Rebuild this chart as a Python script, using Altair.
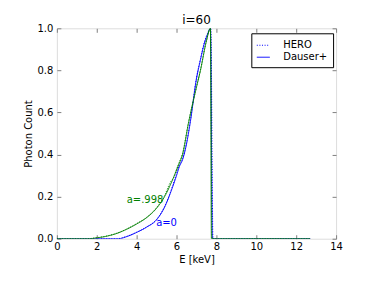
import altair as alt
import pandas as pd

# a=0 (blue)
blue_dauser_E = [0, 3.1, 3.5, 4.0, 4.5, 5.0, 5.4, 5.8, 6.0, 6.15, 6.3, 6.5, 6.7, 7.0, 7.2, 7.4, 7.55, 7.7, 7.8, 8.0, 12.7]
blue_dauser_v = [0, 0, 0.01, 0.03, 0.055, 0.09, 0.15, 0.245, 0.30, 0.345, 0.375, 0.45, 0.56, 0.76, 0.85, 0.93, 0.97, 1.0, 0.0, 0, 0]
blue_hero_E = [0, 3.0, 3.5, 4.0, 4.5, 5.0, 5.4, 5.8, 6.0, 6.15, 6.3, 6.5, 6.7, 7.0, 7.2, 7.4, 7.55, 7.72, 7.83, 8.0, 12.7]
blue_hero_v = [0, 0, 0.011, 0.031, 0.056, 0.092, 0.152, 0.25, 0.31, 0.35, 0.38, 0.455, 0.565, 0.765, 0.855, 0.935, 0.975, 1.0, 0.0, 0, 0]

# a=.998 (green)
green_dauser_E = [0, 1.6, 2.0, 2.5, 3.0, 3.5, 4.0, 4.5, 5.0, 5.4, 5.8, 6.1, 6.3, 6.6, 7.0, 7.2, 7.5, 7.7, 7.75, 8.0, 12.7]
green_dauser_v = [0, 0, 0.004, 0.012, 0.025, 0.045, 0.07, 0.10, 0.145, 0.20, 0.28, 0.35, 0.40, 0.55, 0.72, 0.80, 0.94, 1.0, 0.0, 0, 0]
green_hero_E = [0, 1.5, 2.0, 2.5, 3.0, 3.5, 4.0, 4.5, 5.0, 5.4, 5.7, 5.85, 6.0, 6.1, 6.3, 6.6, 7.0, 7.2, 7.5, 7.7, 7.78, 8.0, 12.7]
green_hero_v = [0, 0, 0.005, 0.013, 0.026, 0.046, 0.072, 0.102, 0.148, 0.205, 0.27, 0.29, 0.33, 0.355, 0.405, 0.552, 0.722, 0.802, 0.942, 1.0, 0.0, 0, 0]

labels_text = ["a=.998", "a=0"]
labels_E = [4.42, 5.5]
labels_v = [0.185, 0.077]
labels_spin = ["a=.998", "a=0"]

x_ticks = [0, 2, 4, 6, 8, 10, 12, 14]
y_ticks = [0.0, 0.2, 0.4, 0.6, 0.8, 1.0]

rows = []
for spin, code, E, v in [
    ("a=0", "HERO", blue_hero_E, blue_hero_v),
    ("a=0", "Dauser+", blue_dauser_E, blue_dauser_v),
    ("a=.998", "HERO", green_hero_E, green_hero_v),
    ("a=.998", "Dauser+", green_dauser_E, green_dauser_v),
]:
    for i, (e, c) in enumerate(zip(E, v)):
        rows.append({"E": e, "count": c, "spin": spin, "code": code, "order": i, "series": spin + code})
df = pd.DataFrame(rows)
lab = pd.DataFrame({"E": labels_E, "count": labels_v, "text": labels_text, "spin": labels_spin})

FRAME = "#808080"
color_scale = alt.Scale(domain=["a=0", "a=.998"], range=["#0000ff", "#008000"])
xs = alt.Scale(domain=[0, 14], nice=False)
ys = alt.Scale(domain=[0, 1], nice=False)

common_axis = dict(tickSize=4, offset=-4, domain=False, tickColor=FRAME, grid=False,
                   labelFont="DejaVu Sans", labelFontSize=10, labelColor="black",
                   titleFont="DejaVu Sans", titleFontSize=10, titleFontWeight="normal",
                   titleColor="black", labelFlush=False, labelOverlap=False)

lines = alt.Chart(df).mark_line(strokeWidth=1, clip=True, interpolate="monotone").encode(
    x=alt.X("E:Q", scale=xs, axis=alt.Axis(values=x_ticks, format="d", title="E [keV]",
                                             labelPadding=3, titlePadding=3, **common_axis)),
    y=alt.Y("count:Q", scale=ys, axis=alt.Axis(values=y_ticks, format=".1f", title="Photon Count",
                                                 labelPadding=4, titlePadding=4, **common_axis)),
    color=alt.Color("spin:N", scale=color_scale, legend=None),
    strokeDash=alt.StrokeDash("code:N", scale=alt.Scale(domain=["HERO", "Dauser+"], range=[[1, 1.6], [1, 0]]),
                              legend=alt.Legend(title=None, orient="none", legendX=195, legendY=5,
                                                symbolType="stroke", symbolSize=169, symbolStrokeColor="#0000ff",
                                                symbolStrokeWidth=1, labelFont="DejaVu Sans", labelFontSize=10,
                                                labelColor="black", labelOffset=13, strokeColor="black",
                                                fillColor="white", padding=5, rowPadding=0, cornerRadius=0)),
    detail="series:N",
    order="order:Q",
)

top_right_axis = dict(tickSize=4, offset=-4, domain=False, tickColor=FRAME, grid=False,
                      labels=False, title=None)

texts = alt.Chart(lab).mark_text(font="DejaVu Sans", fontSize=10).encode(
    x=alt.X("E:Q", scale=xs, axis=alt.Axis(orient="top", values=x_ticks, **top_right_axis)),
    y=alt.Y("count:Q", scale=ys, axis=alt.Axis(orient="right", values=y_ticks, **top_right_axis)),
    text="text:N",
    color=alt.Color("spin:N", scale=color_scale, legend=None),
)

chart = alt.layer(lines, texts).resolve_axis(x="independent", y="independent").properties(
    width=280, height=211,
    title=alt.TitleParams("i=60", font="DejaVu Sans", fontSize=12, fontWeight="normal", offset=-4, anchor="middle"),
    autosize=alt.AutoSizeParams(type="none"),
    padding={"left": 49, "top": 20, "right": 30, "bottom": 30},
).configure_view(stroke=FRAME, strokeWidth=1).configure(background="white")

chart.save("out.html", embed_options={"renderer": "svg", "actions": False})
